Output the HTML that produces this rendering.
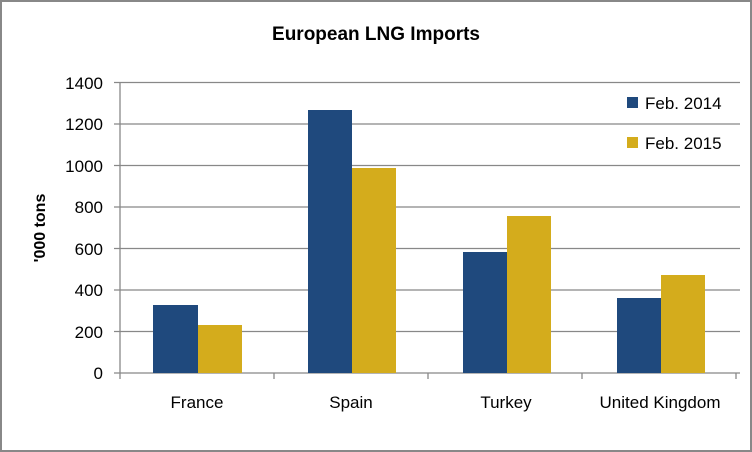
<!DOCTYPE html>
<html><head><style>body{margin:0;background:#fff}svg{display:block}</style></head><body>
<svg width="752" height="452" viewBox="0 0 752 452" xmlns="http://www.w3.org/2000/svg" font-family="Liberation Sans, sans-serif">
<rect x="1" y="1" width="750" height="450" fill="#fff" stroke="#888" stroke-width="2"/>
<text x="376" y="40" text-anchor="middle" font-size="19" font-weight="bold">European LNG Imports</text>
<g stroke="#888" stroke-width="1.3">
<line x1="114" y1="373" x2="740" y2="373"/>
<line x1="114" y1="331.5" x2="740" y2="331.5"/>
<line x1="114" y1="290" x2="740" y2="290"/>
<line x1="114" y1="248.5" x2="740" y2="248.5"/>
<line x1="114" y1="207" x2="740" y2="207"/>
<line x1="114" y1="165.5" x2="740" y2="165.5"/>
<line x1="114" y1="124" x2="740" y2="124"/>
<line x1="114" y1="82.5" x2="740" y2="82.5"/>
<line x1="120" y1="82.5" x2="120" y2="379"/>
<line x1="274" y1="373" x2="274" y2="379"/>
<line x1="428" y1="373" x2="428" y2="379"/>
<line x1="582" y1="373" x2="582" y2="379"/>
<line x1="736" y1="373" x2="736" y2="379"/>
</g>
<g fill="#1F497D">
<rect x="153" y="305" width="45" height="68"/>
<rect x="308" y="110" width="44" height="263"/>
<rect x="463" y="252" width="44" height="121"/>
<rect x="617" y="298" width="44" height="75"/>
</g>
<g fill="#D4AC1C">
<rect x="198" y="325" width="44" height="48"/>
<rect x="352" y="168" width="44" height="205"/>
<rect x="507" y="216" width="44" height="157"/>
<rect x="661" y="275" width="44" height="98"/>
</g>
<g font-size="17" text-anchor="end" fill="#000">
<text x="103" y="379">0</text>
<text x="103" y="338">200</text>
<text x="103" y="296">400</text>
<text x="103" y="255">600</text>
<text x="103" y="213">800</text>
<text x="103" y="172">1000</text>
<text x="103" y="130">1200</text>
<text x="103" y="89">1400</text>
</g>
<g font-size="17" text-anchor="middle">
<text x="197" y="408">France</text>
<text x="351" y="408">Spain</text>
<text x="506" y="408">Turkey</text>
<text x="660" y="408">United Kingdom</text>
</g>
<text transform="translate(45,228) rotate(-90)" text-anchor="middle" font-size="16" font-weight="bold">'000 tons</text>
<rect x="627" y="97" width="11" height="11" fill="#1F497D"/>
<text x="645" y="109" font-size="17">Feb. 2014</text>
<rect x="627" y="137" width="11" height="11" fill="#D4AC1C"/>
<text x="645" y="149" font-size="17">Feb. 2015</text>
</svg>
</body></html>
